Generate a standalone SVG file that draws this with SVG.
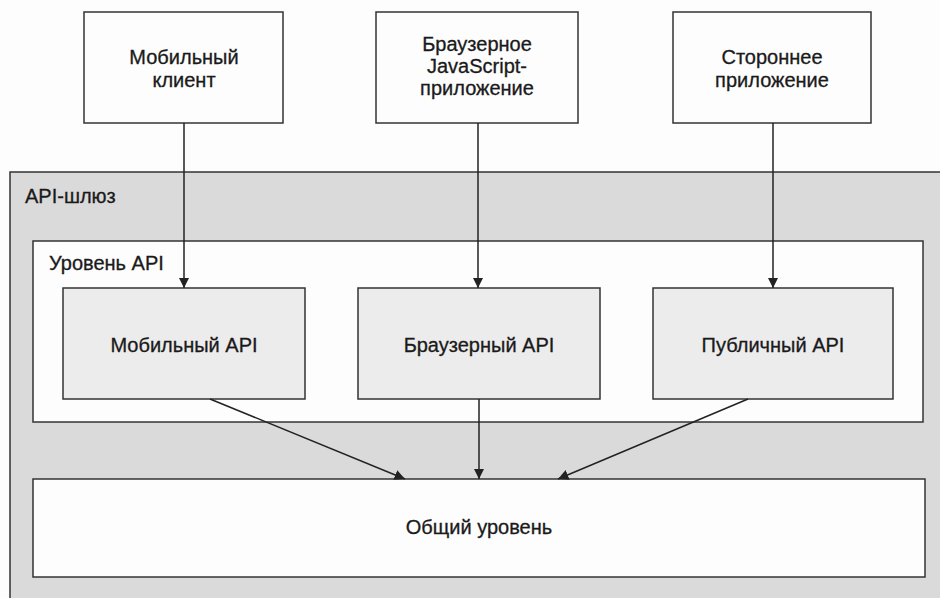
<svg xmlns="http://www.w3.org/2000/svg" width="940" height="598" viewBox="0 0 940 598">
<style>
  .box{stroke:#333;stroke-width:1.5}
  .white{fill:#fdfdfd}
  .grey{fill:#dadada}
  .light{fill:#ececec}
  text{font-family:"Liberation Sans",Arial,sans-serif;font-size:20px;fill:#1a1a1a;stroke:#1a1a1a;stroke-width:0.3}
  .c{text-anchor:middle}
  .conn{stroke:#222;stroke-width:1.5;fill:none}
</style>
<defs>
  <marker id="arr" viewBox="0 0 10 10" refX="10" refY="5" markerWidth="7" markerHeight="7" orient="auto" markerUnits="strokeWidth">
    <path d="M0,0 L10,5 L0,10 z" fill="#222"/>
  </marker>
</defs>
<rect width="940" height="598" fill="#fdfdfd"/>
<g id="gateway">
  <rect class="box grey" x="10" y="172" width="940" height="440"/>
  <text x="25" y="203">API-шлюз</text>
</g>
<g id="api-level">
  <rect class="box white" x="33" y="241" width="890" height="181"/>
  <text x="49" y="270">Уровень API</text>
</g>
<g id="mobile-client">
  <rect class="box white" x="84" y="12" width="199" height="111"/>
  <text class="c" x="184" y="64">Мобильный</text>
  <text class="c" x="184" y="87">клиент</text>
</g>
<g id="browser-app">
  <rect class="box white" x="376" y="12" width="202" height="111"/>
  <text class="c" x="477" y="51">Браузерное</text>
  <text class="c" x="477" y="73">JavaScript-</text>
  <text class="c" x="477" y="95">приложение</text>
</g>
<g id="third-party">
  <rect class="box white" x="673" y="12" width="198" height="111"/>
  <text class="c" x="772" y="64">Стороннее</text>
  <text class="c" x="772" y="87">приложение</text>
</g>
<g id="mobile-api">
  <rect class="box light" x="63" y="288" width="242" height="111"/>
  <text class="c" x="184" y="352">Мобильный API</text>
</g>
<g id="browser-api">
  <rect class="box light" x="358" y="288" width="242" height="111"/>
  <text class="c" x="479" y="352">Браузерный API</text>
</g>
<g id="public-api">
  <rect class="box light" x="653" y="288" width="240" height="111"/>
  <text class="c" x="773" y="352">Публичный API</text>
</g>
<g id="common-level">
  <rect class="box white" x="33" y="479" width="892" height="98"/>
  <text class="c" x="479" y="534">Общий уровень</text>
</g>
<g id="connectors">
  <line class="conn" x1="184" y1="123" x2="184" y2="288" marker-end="url(#arr)"/>
  <line class="conn" x1="478" y1="123" x2="478" y2="288" marker-end="url(#arr)"/>
  <line class="conn" x1="773" y1="123" x2="773" y2="288" marker-end="url(#arr)"/>
  <line class="conn" x1="210" y1="399" x2="405" y2="479" marker-end="url(#arr)"/>
  <line class="conn" x1="479" y1="399" x2="479" y2="479" marker-end="url(#arr)"/>
  <line class="conn" x1="748" y1="399" x2="558" y2="479" marker-end="url(#arr)"/>
</g>
</svg>
